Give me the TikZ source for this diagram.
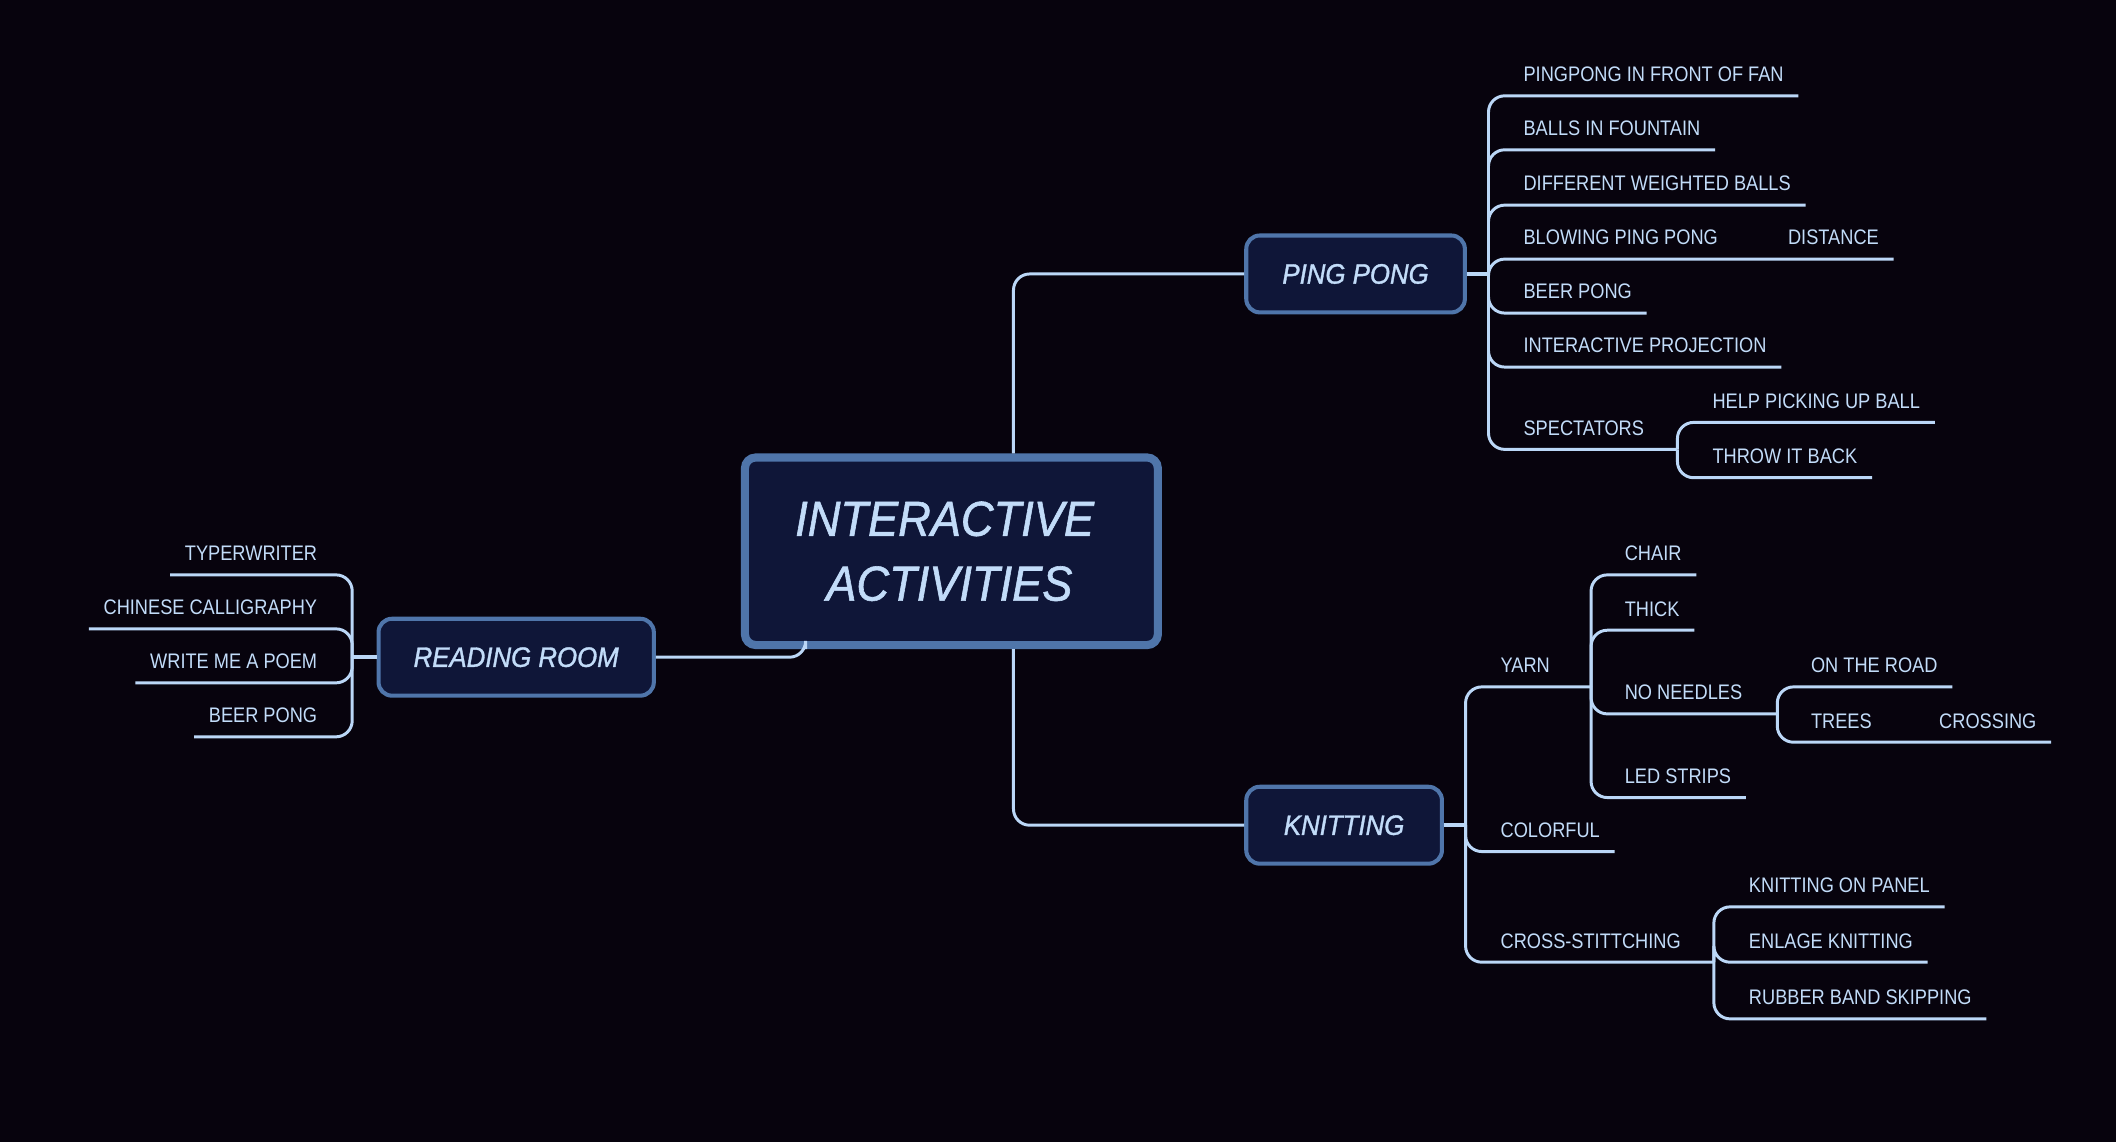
\documentclass[tikz,border=0pt]{standalone}
\usepackage{fontspec}
\setmainfont{Liberation Sans}[FakeStretch=0.865]
\newfontfamily\headfont{Liberation Sans}[FakeStretch=0.92, FakeBold=1.2]
\definecolor{bgc}{HTML}{07030D}
\definecolor{boxc}{HTML}{0F1638}
\definecolor{bordc}{HTML}{4F75AA}
\definecolor{linec}{HTML}{BBD7F7}
\definecolor{txtc}{HTML}{C2DCF9}
\begin{document}
\begin{tikzpicture}[x=0.5pt,y=-0.5pt,
  leaf/.style={font=\fontsize{7.8}{9}\selectfont, text=txtc, inner xsep=5.5pt, inner ysep=5.25pt, text depth=0pt, outer sep=0pt},
  leafl/.style={leaf, anchor=south west},
  leafr/.style={leaf, anchor=south east},
  topic/.style={draw=bordc, fill=boxc, line width=1.5pt, rounded corners=5pt, text=txtc, inner sep=0pt,
    font=\headfont\itshape\fontsize{10.4}{12}\selectfont, minimum height=28.5pt},
  central/.style={draw=bordc, fill=boxc, line width=3pt, rounded corners=4pt, text=txtc, inner sep=0pt,
    align=center, font=\headfont\itshape\fontsize{18.2}{24}\selectfont, minimum width=153pt, minimum height=69.5pt},
  conn/.style={draw=linec, line width=1.1pt, rounded corners=6pt},
  stub/.style={draw=linec, line width=1.6pt}
]
\fill[bgc] (0,0) rectangle (1568,846);
\useasboundingbox (0,0) rectangle (1568,846);

% topics
\node[central] (c) at (705,408.5) {INTERACTIVE\hspace*{5pt}\\ACTIVITIES\hspace*{1.5pt}};
\node[topic, minimum width=81pt] (ping) at (1004.5,203) {PING PONG};
\node[topic, minimum width=102pt] (read) at (382.5,487) {READING ROOM};
\node[topic, minimum width=72.5pt] (knit) at (996,611.5) {KNITTING};

% main connectors
\draw[conn] ([xshift=23pt]c.north) |- (ping.west);
\draw[conn] ([xshift=23pt]c.south) |- (knit.west);
\draw[conn] (read.east) -| ([xshift=-54pt]c.south);

% ping pong branch
\coordinate (ppbus) at (1103,203);
\draw[stub] (ping.east) -- (ppbus);
\node[leafl] (p1) at (1118,71) {PINGPONG IN FRONT OF FAN};
\node[leafl] (p2) at (1118,111) {BALLS IN FOUNTAIN};
\node[leafl] (p3) at (1118,152) {DIFFERENT WEIGHTED BALLS};
\node[leafl] (p4) at (1118,192) {BLOWING PING PONG};
\node[leafl] (p4a) at (1314,192) {DISTANCE};
\node[leafl] (p5) at (1118,232) {BEER PONG};
\node[leafl] (p6) at (1118,272) {INTERACTIVE PROJECTION};
\node[leafl] (p7) at (1118,333) {SPECTATORS};
\coordinate (spbus) at (1243,333);
\node[leafl] (p7a) at (1258,313) {HELP PICKING UP BALL};
\node[leafl] (p7b) at (1258,354) {THROW IT BACK};
\draw[conn] (ppbus) |- (p1.south east);
\draw[conn] (ppbus) |- (p2.south east);
\draw[conn] (ppbus) |- (p3.south east);
\draw[conn] (ppbus) |- (p4.south east) -- (p4a.south east);
\draw[conn] (ppbus) |- (p5.south east);
\draw[conn] (ppbus) |- (p6.south east);
\draw[conn] (ppbus) |- (p7.south east) -- (spbus);
\draw[conn] (spbus) |- (p7a.south east);
\draw[conn] (spbus) |- (p7b.south east);

% reading room branch
\coordinate (rrbus) at (261,487);
\draw[stub] (read.west) -- (rrbus);
\node[leafr] (r1) at (246,426) {TYPERWRITER};
\node[leafr] (r2) at (246,466) {CHINESE CALLIGRAPHY};
\node[leafr] (r3) at (246,506) {WRITE ME A POEM};
\node[leafr] (r4) at (246,546) {BEER PONG};
\draw[conn] (rrbus) |- (r1.south west);
\draw[conn] (rrbus) |- (r2.south west);
\draw[conn] (rrbus) |- (r3.south west);
\draw[conn] (rrbus) |- (r4.south west);

% knitting branch
\coordinate (kbus) at (1086,611.5);
\draw[stub] (knit.east) -- (kbus);
\node[leafl] (k1) at (1101,509) {YARN};
\node[leafl] (k2) at (1101,631) {COLORFUL};
\node[leafl] (k3) at (1101,713) {CROSS-STITTCHING};
\coordinate (ybus) at (1179,509);
\coordinate (cbus) at (1270,713);
\draw[conn] (kbus) |- (k1.south east) -- (ybus);
\draw[conn] (kbus) |- (k2.south east);
\draw[conn] (kbus) |- (k3.south east) -- (cbus);

\node[leafl] (y1) at (1193,426) {CHAIR};
\node[leafl] (y2) at (1193,467) {THICK};
\node[leafl] (y3) at (1193,529) {NO NEEDLES};
\node[leafl] (y4) at (1193,591) {LED STRIPS};
\coordinate (nbus) at (1317,529);
\draw[conn] (ybus) |- (y1.south east);
\draw[conn] (ybus) |- (y2.south east);
\draw[conn] (ybus) |- (y3.south east) -- (nbus);
\draw[conn] (ybus) |- (y4.south east);

\node[leafl] (n1) at (1331,509) {ON THE ROAD};
\node[leafl] (n2) at (1331,550) {TREES};
\node[leafl] (n2a) at (1426,550) {CROSSING};
\draw[conn] (nbus) |- (n1.south east);
\draw[conn] (nbus) |- (n2.south east) -- (n2a.south east);

\node[leafl] (x1) at (1285,672) {KNITTING ON PANEL};
\node[leafl] (x2) at (1285,713) {ENLAGE KNITTING};
\node[leafl] (x3) at (1285,755) {RUBBER BAND SKIPPING};
\draw[conn] (cbus) |- (x1.south east);
\draw[conn] (cbus) |- (x2.south east);
\draw[conn] (cbus) |- (x3.south east);
\end{tikzpicture}
\end{document}
